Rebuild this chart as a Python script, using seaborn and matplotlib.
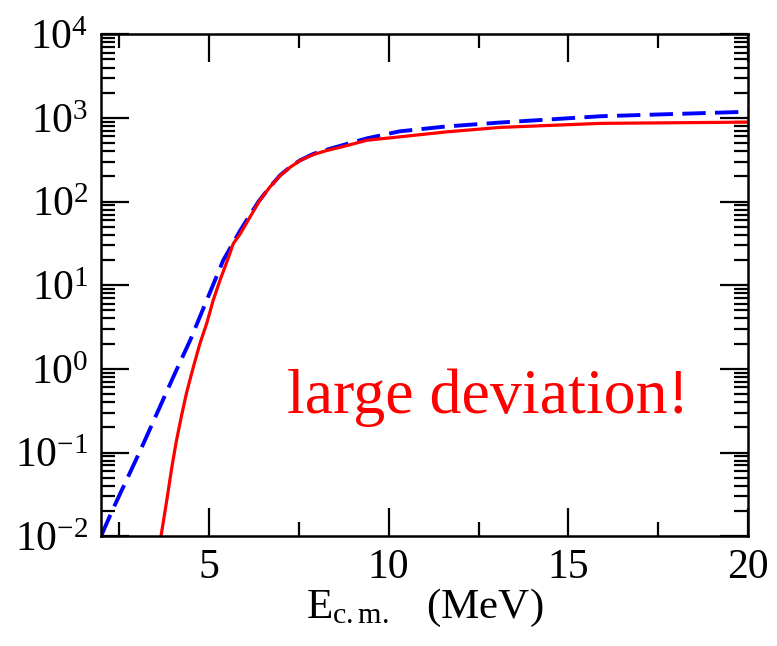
import matplotlib
matplotlib.use("Agg")
import matplotlib.pyplot as plt
import seaborn as sns
import pandas as pd
from matplotlib.ticker import FixedLocator, LogLocator, NullFormatter

# ---- data ----
red_x = [3.66, 3.83, 3.97, 4.10, 4.25, 4.38, 4.57, 4.75, 4.94, 5.12, 5.31, 5.50, 5.68, 5.87,
         6.15, 6.42, 6.70, 6.98, 7.26, 7.54, 7.91, 8.28, 8.74, 9.40, 10.3, 11.6, 13.1, 15.9, 20.0]
red_y = [0.0095, 0.027, 0.067, 0.14, 0.29, 0.52, 1.06, 2.0, 3.5, 6.6, 11.5, 19.0, 31.5, 41,
         66, 104, 150, 204, 257, 310, 365, 408, 455, 541, 593, 680, 770, 860, 890]

blue_x = [2.0, 2.33, 3.09, 3.55, 4.01, 4.48, 4.94, 5.40, 5.87, 6.15, 6.38, 6.70, 6.98, 7.26,
          7.54, 7.91, 8.28, 8.74, 9.40, 10.3, 11.6, 13.1, 15.9, 20.0]
blue_y = [0.01, 0.021, 0.105, 0.29, 0.80, 2.2, 6.6, 19.9, 45, 70, 100, 150, 206, 259,
          312, 372, 417, 475, 570, 690, 790, 880, 1047, 1185]

x_ticks = [5, 10, 15, 20]
x_ticklabels = ["5", "10", "15", "20"]
y_ticks = [1e-2, 1e-1, 1e0, 1e1, 1e2, 1e3, 1e4]
y_ticklabels = [r"$10^{-2}$", r"$10^{-1}$", r"$10^{0}$", r"$10^{1}$", r"$10^{2}$", r"$10^{3}$", r"$10^{4}$"]
annotation = "large deviation!"
xlabel = r"$\mathrm{E}_{\mathrm{c.m.}}$   (MeV)"

sns.set_style("ticks")
plt.rcParams["font.family"] = ["Liberation Serif", "DejaVu Serif"]
plt.rcParams["mathtext.fontset"] = "custom"
plt.rcParams["mathtext.rm"] = "Liberation Serif"
plt.rcParams["mathtext.it"] = "Liberation Serif:italic"
plt.rcParams["mathtext.bf"] = "Liberation Serif:bold"

fig = plt.figure(figsize=(7.77, 6.46), dpi=100)
ax = fig.add_axes([0.130, 0.170, 0.833, 0.777])

df_red = pd.DataFrame({"x": red_x, "y": red_y})
df_blue = pd.DataFrame({"x": blue_x, "y": blue_y})

sns.lineplot(data=df_blue, x="x", y="y", ax=ax, color="#0000ff", lw=2.8,
             sort=False, estimator=None)
ax.lines[-1].set_dashes([6.0, 2.4])
sns.lineplot(data=df_red, x="x", y="y", ax=ax, color="#ff0000", lw=2.3,
             sort=False, estimator=None)
for ln in ax.lines:
    ln.set_solid_joinstyle("round")
    ln.set_dash_joinstyle("round")

ax.set_yscale("log")
ax.set_xlim(2, 20)
ax.set_ylim(1e-2, 1e4)

ax.xaxis.set_major_locator(FixedLocator(x_ticks))
ax.set_xticklabels(x_ticklabels)
ax.xaxis.set_minor_locator(FixedLocator([2.5, 7.5, 12.5, 17.5]))
ax.yaxis.set_major_locator(FixedLocator(y_ticks))
ax.set_yticklabels(y_ticklabels)
ax.yaxis.set_minor_locator(LogLocator(base=10, subs=range(2, 10), numticks=20))
ax.yaxis.set_minor_formatter(NullFormatter())

ax.tick_params(which="both", direction="in", top=True, right=True, width=1.6, colors="black")
ax.tick_params(which="major", length=20, labelsize=30, pad=9)
ax.tick_params(which="minor", length=10)
for s in ax.spines.values():
    s.set_linewidth(1.8)
    s.set_color("black")

ax.set_xlabel(xlabel, fontsize=31, labelpad=0, color="black")
ax.set_ylabel("")

ax.text(0.287, 0.245, annotation, transform=ax.transAxes, color="#ff0000",
        fontsize=46, ha="left", va="baseline")

fig.savefig("out.png", dpi=100, facecolor="white")
